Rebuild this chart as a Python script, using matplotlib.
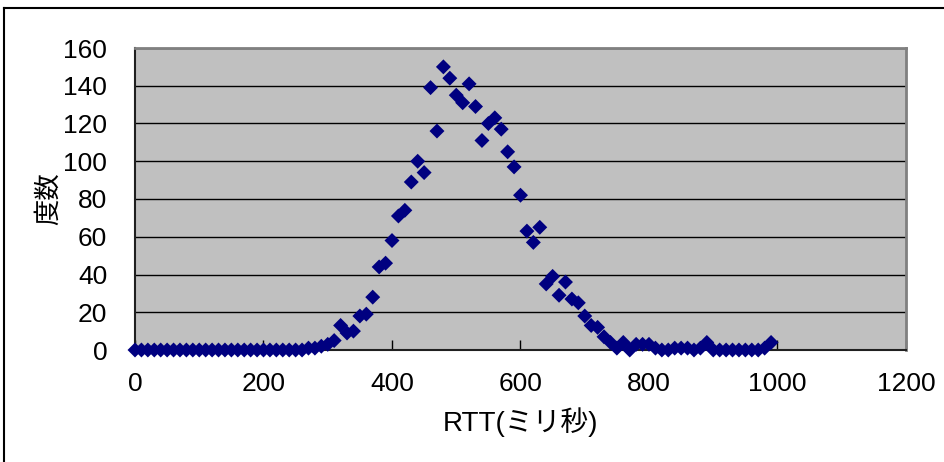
import matplotlib
matplotlib.use("Agg")
import matplotlib.pyplot as plt
from matplotlib.lines import Line2D

plt.rcParams['font.family'] = ['Liberation Sans Narrow', 'Liberation Sans', 'Noto Sans CJK JP', 'DejaVu Sans']

# RTT bins (ms) and frequency counts
rtt_ms = list(range(0, 1000, 10))
counts = [0] * 25 + [
    0, 0, 1, 1, 2, 3, 5, 13, 9, 10,          # 250-340
    18, 19, 28, 44, 46, 58, 71, 74, 89, 100,  # 350-440
    94, 139, 116, 150, 144, 135, 131, 141, 129, 111,  # 450-540
    120, 123, 117, 105, 97, 82, 63, 57, 65, 35,  # 550-640
    39, 29, 36, 27, 25, 18, 13, 12, 7, 4,     # 650-740
    1, 4, 0, 3, 3, 3, 1, 0, 0, 1,             # 750-840
    1, 1, 0, 1, 4, 0, 0, 0, 0, 0,             # 850-940
    0, 0, 0, 1, 4,                            # 950-990
]
x_ticks = [0, 200, 400, 600, 800, 1000, 1200]
y_ticks = [0, 20, 40, 60, 80, 100, 120, 140, 160]
x_label = "RTT(ミリ秒)"
y_label = "度数"

W, H = 945, 462
fig = plt.figure(figsize=(W / 100, H / 100), dpi=100)
fig.patch.set_facecolor("white")

ax = fig.add_axes([135 / W, (H - 350) / H, (906 - 135) / W, (350 - 48) / H])
ax.set_facecolor("#C0C0C0")
ax.set_xlim(0, 1200)
ax.set_ylim(0, 160)
ax.set_xticks(x_ticks)
ax.set_yticks(y_ticks)
ax.set_xticklabels([str(v) for v in x_ticks])
ax.set_yticklabels([str(v) for v in y_ticks])
ax.tick_params(axis="x", direction="in", length=7, width=1, color="black",
               labelsize=19, pad=16)
ax.tick_params(axis="y", direction="in", length=0, labelsize=19, pad=20)
ax.yaxis.grid(True, color="black", linewidth=1)
ax.set_axisbelow(True)

for side in ("top", "right"):
    ax.spines[side].set_color("#808080")
    ax.spines[side].set_linewidth(2)
for side in ("left", "bottom"):
    ax.spines[side].set_color("#202020")
    ax.spines[side].set_linewidth(1.5)

ax.scatter(rtt_ms, counts, marker="D", s=58, color="#000080",
           edgecolors="none", clip_on=False, zorder=5)

ax.set_xlabel(x_label, fontsize=20, labelpad=8)
ax.set_ylabel(y_label, fontsize=19)
ax.yaxis.set_label_coords(-0.096, 0.5)

# outer frame (top and left edges visible)
fig.add_artist(Line2D([4 / W, 1.0], [1 - 8 / H, 1 - 8 / H], color="black", lw=1.5,
                      transform=fig.transFigure))
fig.add_artist(Line2D([4 / W, 4 / W], [0, 1 - 8 / H], color="black", lw=1.5,
                      transform=fig.transFigure))

fig.savefig("out.png", dpi=100)
